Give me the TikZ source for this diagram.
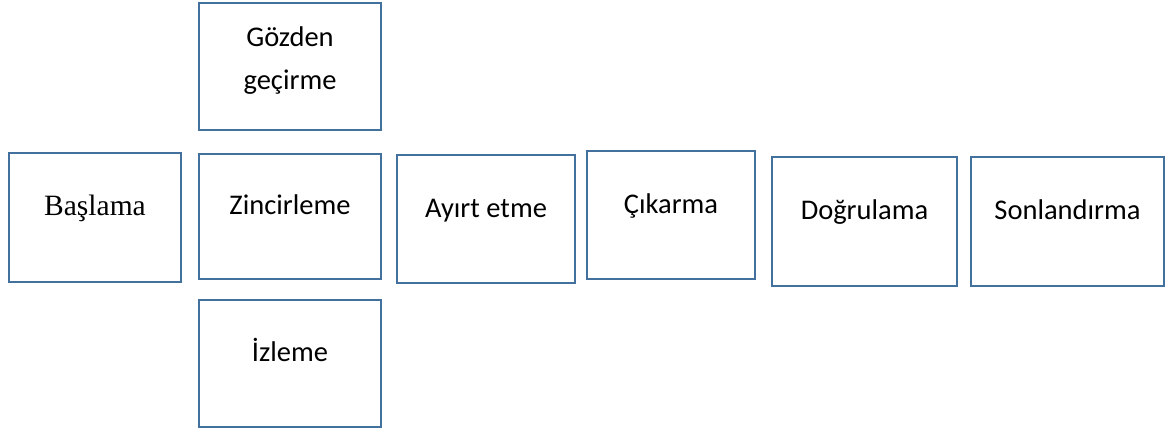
\documentclass[tikz,border=0pt]{standalone}
\usepackage{fontspec}
\newfontfamily\calibrifont{Carlito}
\newfontfamily\tnrfont{Liberation Serif}
\usepackage{tikz}
\usetikzlibrary{positioning}
\definecolor{boxblue}{RGB}{65,113,156}
\tikzset{
 b/.style
  = {rectangle, draw=boxblue, line width=2.6pt, text centered,
     text height=0pt, text depth=4pt, font=\calibrifont\fontsize{28.5}{43}\selectfont},
 bs/.style
  = {b, font=\tnrfont\fontsize{29.5}{34}\selectfont},
}

\begin{document}
\begin{tikzpicture}[x=1pt,y=-1pt]
\useasboundingbox (0,0) rectangle (1166,431);

% Start
\node[bs,minimum width=172pt,minimum height=129pt] (basla) at (95,217.5) {Başlama};

% Middle column
\node[b,minimum width=182pt,minimum height=127pt,align=center,text height=45pt,text depth=0pt] (gozden) at (290,66.5) {Gözden\\geçirme};
\node[b,minimum width=182pt,minimum height=125pt] (zincir) at (290,216.5) {Zincirleme};
\node[b,minimum width=182pt,minimum height=127pt] (izle) at (290,363.5) {İzleme};

% Rest of the row
\node[b,minimum width=178pt,minimum height=128pt] (ayirt) at (486,219) {Ayırt etme};
\node[b,minimum width=168pt,minimum height=128pt] (cikar) at (671,215) {Çıkarma};
\node[b,minimum width=185pt,minimum height=129pt] (dogru) at (864.5,221.5) {Doğrulama};
\node[b,minimum width=193pt,minimum height=129pt] (sonlan) at (1067.5,221.5) {Sonlandırma};

\end{tikzpicture}
\end{document}
